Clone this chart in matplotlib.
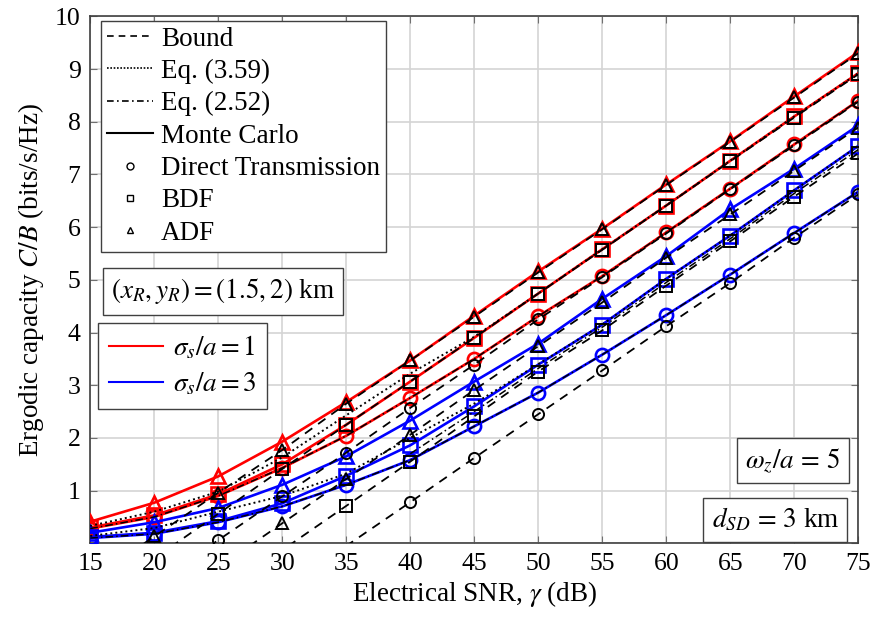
import numpy as np
import matplotlib
matplotlib.use("Agg")
import matplotlib.pyplot as plt
from matplotlib.lines import Line2D

plt.rcParams['font.family'] = ['Liberation Serif', 'DejaVu Serif']
plt.rcParams['mathtext.fontset'] = 'stix'

# SNR axis (dB)
snr = [15, 20, 25, 30, 35, 40, 45, 50, 55, 60, 65, 70, 75]

# Monte Carlo, sigma_s/a = 1 (red)
mc1_dt = [0.28, 0.50, 0.90, 1.43, 2.04, 2.76, 3.50, 4.31, 5.07, 5.90, 6.73, 7.57, 8.40]
mc1_bdf = [0.30, 0.53, 0.93, 1.50, 2.25, 3.07, 3.90, 4.74, 5.58, 6.41, 7.26, 8.10, 8.92]
mc1_adf = [0.41, 0.77, 1.27, 1.93, 2.68, 3.47, 4.32, 5.16, 5.97, 6.81, 7.63, 8.48, 9.32]

# Monte Carlo, sigma_s/a = 3 (blue)
mc3_dt = [0.10, 0.18, 0.40, 0.70, 1.11, 1.58, 2.22, 2.86, 3.58, 4.33, 5.10, 5.89, 6.67]
mc3_bdf = [0.12, 0.20, 0.42, 0.76, 1.28, 1.86, 2.60, 3.39, 4.15, 5.02, 5.84, 6.70, 7.54]
mc3_adf = [0.20, 0.40, 0.67, 1.11, 1.65, 2.33, 3.07, 3.79, 4.64, 5.45, 6.34, 7.11, 7.93]

# Bounds (black dashed), clipped at 0 by the axis
bd1_dt = [-1.60, -0.77, 0.06, 0.89, 1.72, 2.57, 3.39, 4.25, 5.05, 5.88, 6.72, 7.55, 8.38]
bd1_bdf = [-1.12, -0.29, 0.56, 1.41, 2.25, 3.07, 3.90, 4.74, 5.57, 6.41, 7.25, 8.08, 8.90]
bd1_adf = [-0.70, 0.13, 0.96, 1.77, 2.65, 3.47, 4.30, 5.14, 5.96, 6.80, 7.62, 8.46, 9.30]
bd3_dt = [-3.40, -2.55, -1.72, -0.88, -0.05, 0.78, 1.62, 2.45, 3.28, 4.12, 4.94, 5.80, 6.62]
bd3_bdf = [-2.65, -1.80, -0.97, -0.13, 0.71, 1.55, 2.41, 3.26, 4.04, 4.89, 5.73, 6.58, 7.40]
bd3_adf = [-2.15, -1.30, -0.46, 0.38, 1.22, 2.06, 2.91, 3.74, 4.57, 5.42, 6.24, 7.07, 7.89]

# Eq. (3.59) (dotted)
eq359_1 = [0.33, 0.60, 0.98, 1.63, 2.43, 3.22, 3.92, 4.74, 5.58, 6.41, 7.26, 8.10, 8.92]
eq359_3 = [0.14, 0.29, 0.60, 0.90, 1.32, 2.00, 2.65, 3.40, 4.15, 5.02, 5.84, 6.70, 7.54]

# Eq. (2.52) (dash-dot)
eq252_1 = [0.28, 0.50, 0.90, 1.43, 2.04, 2.76, 3.50, 4.31, 5.07, 5.90, 6.73, 7.57, 8.40]
eq252_3 = [0.10, 0.18, 0.40, 0.70, 1.11, 1.58, 2.22, 2.86, 3.58, 4.33, 5.10, 5.89, 6.67]
eq252_3b = [np.nan, np.nan, np.nan, np.nan, np.nan, 1.70, 2.50, 3.32, 4.10, 4.95, 5.78, 6.64, 7.47]

fig = plt.figure(figsize=(8.73, 6.19), dpi=100)
ax = fig.add_axes([0.1034, 0.1223, 0.8797, 0.8513])

fs = 19.5
ms = 9.5
mew = 1.9

# Monte Carlo curves
for vals, col, mk in [(mc1_dt, 'red', 'o'), (mc1_bdf, 'red', 's'), (mc1_adf, 'red', '^'),
                      (mc3_dt, 'blue', 'o'), (mc3_bdf, 'blue', 's'), (mc3_adf, 'blue', '^')]:
    ax.plot(snr, vals, color=col, lw=1.9, marker=mk, ms=ms, mfc='none', mec=col, mew=mew, zorder=3)

# Eq. (3.59) and Eq. (2.52)
for vals in [eq359_1, eq359_3]:
    ax.plot(snr, vals, color='black', lw=1.4, ls=(0, (1, 1.6)), zorder=4)
for vals in [eq252_1, eq252_3, eq252_3b]:
    ax.plot(snr, vals, color='black', lw=1.1, ls=(0, (5, 2, 1, 2)), zorder=4)

# Bounds
for vals, mk in [(bd1_dt, 'o'), (bd1_bdf, 's'), (bd1_adf, '^'),
                 (bd3_dt, 'o'), (bd3_bdf, 's'), (bd3_adf, '^')]:
    v = np.array(vals)
    ax.plot(snr, v, color='black', lw=1.3, ls=(0, (5, 4)), zorder=4)
    ax.plot(snr, np.where(v >= 0, v, np.nan), ls='none', marker=mk, ms=ms - 1.5,
            mfc='none', mec='black', mew=1.4, zorder=5)

ax.set_xlim(15, 75)
ax.set_ylim(0, 10)
ax.set_xticks(range(15, 80, 5))
ax.set_yticks(range(0, 11))
ax.set_yticklabels([''] + [str(i) for i in range(1, 11)])
ax.tick_params(direction='in', top=True, right=True, labelsize=18.5, length=5,
               color='#707070', pad=7)
ax.grid(True, color='#d4d4d4', lw=1.2)
ax.set_axisbelow(True)
for s in ax.spines.values():
    s.set_color('#404040')
    s.set_linewidth(1.2)

ax.set_xlabel(r'Electrical SNR, $\gamma$ (dB)', fontsize=fs, labelpad=3)
ax.set_ylabel(r'Ergodic capacity $C/B$ (bits/s/Hz)', fontsize=fs, labelpad=6)

# main legend
handles = [
    Line2D([], [], color='black', lw=1.2, ls=(0, (4, 3))),
    Line2D([], [], color='black', lw=1.2, ls=(0, (1, 1))),
    Line2D([], [], color='black', lw=1.2, ls=(0, (4, 2, 1, 2))),
    Line2D([], [], color='black', lw=1.5),
    Line2D([], [], ls='none', marker='o', ms=5, mfc='none', mec='black', mew=1),
    Line2D([], [], ls='none', marker='s', ms=5, mfc='none', mec='black', mew=1),
    Line2D([], [], ls='none', marker='^', ms=5, mfc='none', mec='black', mew=1),
]
labels = ['Bound', 'Eq. (3.59)', 'Eq. (2.52)', 'Monte Carlo',
          'Direct Transmission', 'BDF', 'ADF']
leg1 = ax.legend(handles, labels, loc='upper left', bbox_to_anchor=(0.014, 0.992),
                 fontsize=fs, frameon=True, fancybox=False, framealpha=1,
                 edgecolor='#404040', handlelength=1.7, handletextpad=0.3,
                 labelspacing=0.27, borderpad=0.22, borderaxespad=0)
leg1.get_frame().set_linewidth(1.0)
ax.add_artist(leg1)

# sigma legend
h2 = [Line2D([], [], color='red', lw=1.5), Line2D([], [], color='blue', lw=1.5)]
leg2 = ax.legend(h2, [r'$\sigma_s/a=1$', r'$\sigma_s/a=3$'], loc='upper left',
                 bbox_to_anchor=(0.0104, 0.4175), fontsize=fs, frameon=True,
                 fancybox=False, framealpha=1, edgecolor='#404040',
                 handlelength=2.0, handletextpad=0.35, labelspacing=0.35,
                 borderpad=0.4, borderaxespad=0)
leg2.get_frame().set_linewidth(1.0)

box = dict(boxstyle='square,pad=0.3', fc='white', ec='#404040', lw=1.0)
ax.text(0.1725, 0.478, r'$(x_R, y_R) = (1.5, 2)$ km', transform=ax.transAxes,
        ha='center', va='center', fontsize=fs, bbox=box, zorder=10)
ax.text(0.915, 0.157, r'$\omega_z/a\,=\,5$', transform=ax.transAxes,
        ha='center', va='center', fontsize=fs, bbox=box, zorder=10)
ax.text(0.892, 0.045, r'$d_{SD}\,=\,3$ km', transform=ax.transAxes,
        ha='center', va='center', fontsize=fs, bbox=box, zorder=10)

fig.savefig('out.png', dpi=100)
